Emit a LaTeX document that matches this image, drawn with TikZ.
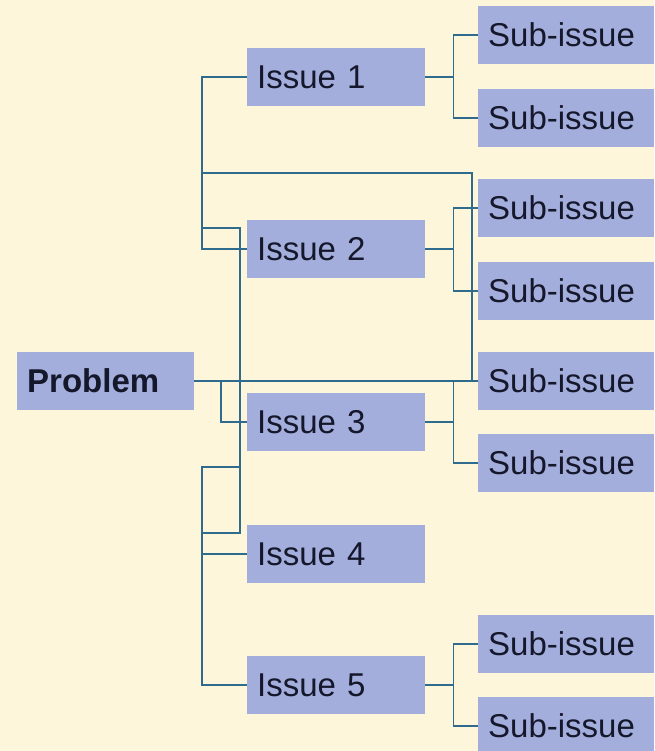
\documentclass[tikz,border=0pt]{standalone}
\usepackage{fontspec}
\setmainfont{Liberation Sans}
\usetikzlibrary{calc}
\definecolor{paper}{HTML}{FEF6DB}
\definecolor{boxblue}{HTML}{A3AEDC}
\definecolor{wire}{HTML}{2F6B8C}
\definecolor{ink}{HTML}{15172A}

\begin{document}
\begin{tikzpicture}[x=1pt,y=-1pt,
  every node/.style={fill=boxblue,inner xsep=10pt,inner ysep=0pt,minimum height=58pt,
    align=left,text=ink,anchor=west,font=\fontsize{33}{38}\selectfont},
  issuebox/.style={text width=158pt},
  subbox/.style={text width=156pt},
  probbox/.style={text width=157pt,font=\fontsize{33}{38}\selectfont\bfseries},
  wires/.style={draw=wire,line width=1.6pt}]
  \useasboundingbox[fill=paper] (0,0) rectangle (654,751);
  \path (17,381) node[probbox] (prob) {Problem}
  (247,77) node[issuebox] (i1) {Issue 1} (247,249) node[issuebox] (i2) {Issue 2}
  (247,422) node[issuebox] (i3) {Issue 3} (247,554) node[issuebox] (i4) {Issue 4}
  (247,685) node[issuebox] (i5) {Issue 5};
  \path (478,35) node[subbox] (s1) {Sub-issue} (478,118) node[subbox] (s2) {Sub-issue}
  (478,208) node[subbox] (s3) {Sub-issue} (478,291) node[subbox] (s4) {Sub-issue}
  (478,381) node[subbox] (s5) {Sub-issue} (478,463) node[subbox] (s6) {Sub-issue}
  (478,644) node[subbox] (s7) {Sub-issue} (478,726) node[subbox] (s8) {Sub-issue};
  % junctions
  \coordinate (j0) at (472,381); \coordinate (j1) at (202,173);
  \coordinate (j2) at (202,249); \coordinate (j3) at (202,228);
  \coordinate (j4) at (240,533); \coordinate (j5) at (240,467);
  \coordinate (j6) at (221,381);
  % left side
  \draw[wires] (prob.east) -- (j0) |- (j1);
  \draw[wires] (i1.west) -| (j2) -- (i2.west);
  \draw[wires] (j3) -| (j4) -- (202,533);
  \draw[wires] (j5) -| (202,685) -- (i5.west);
  \draw[wires] (202,554) -- (i4.west);
  \draw[wires] (j6) |- (i3.west);
  % right side
  \foreach \i/\a/\b in {1/1/2,2/3/4,3/5/6,5/7/8} {
    \coordinate (b\i) at ($(i\i.east)+(28,0)$);
    \draw[wires] (i\i.east) -- (b\i);
    \draw[wires] (s\a.west) -| (b\i) |- (s\b.west);
  }
  \end{tikzpicture}
\end{document}
